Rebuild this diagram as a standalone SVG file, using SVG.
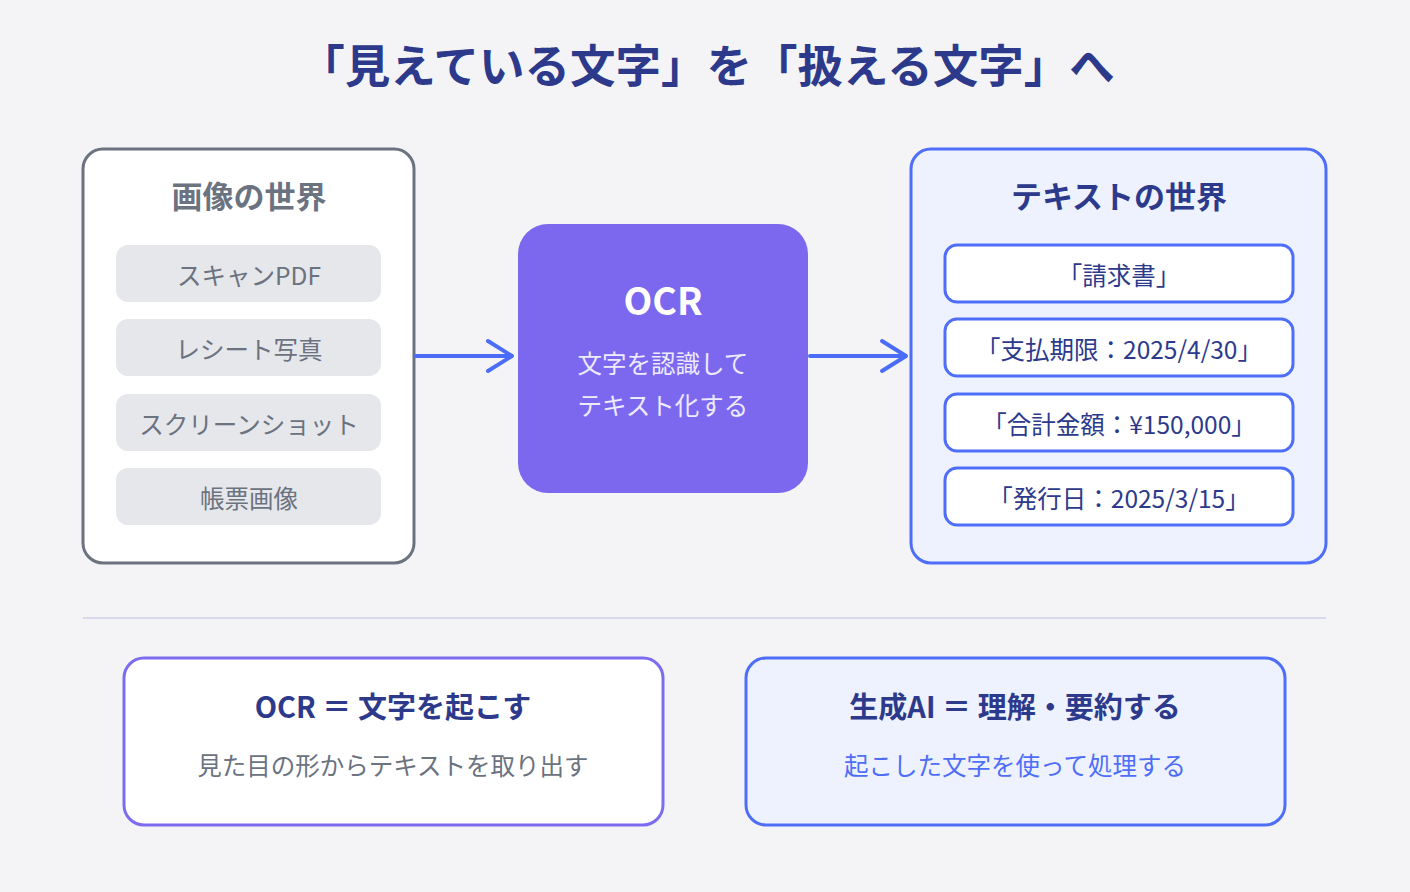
<svg xmlns="http://www.w3.org/2000/svg" width="1410" height="892" viewBox="0 0 1410 892">
<defs>
<style>
text{font-family:"Noto Sans CJK JP","Noto Sans",sans-serif;text-anchor:middle}
.title{font-size:45.5px;font-weight:700;fill:#2d3a8c}
.ptitle{font-size:31px;font-weight:700}
.item-l rect{fill:#e5e7eb}
.item-l text{font-size:24.5px;fill:#6b7280}
.item-r rect{fill:#ffffff;stroke:#4f6ef7;stroke-width:3}
.item-r text{font-size:24.5px;fill:#2d3a8c}
.conn{stroke:#4a6cf7;stroke-width:4;fill:none;stroke-linecap:round;stroke-linejoin:round}
.btitle{font-size:29px;font-weight:700;fill:#2d3a8c}
.bsub{font-size:24.5px}
</style>
</defs>
<rect x="0" y="0" width="1410" height="892" fill="#f4f4f7"/>
<text class="title" x="707" y="83">「見えている文字」を「扱える文字」へ</text>

<g id="image-world">
<rect x="83" y="149" width="331" height="414" rx="20" fill="#ffffff" stroke="#6b7280" stroke-width="3"/>
<text class="ptitle" x="249" y="208" fill="#6b7280">画像の世界</text>
<g class="item-l" id="img-scan"><rect x="116" y="245" width="265" height="57" rx="12"/><text x="249" y="284.5">スキャンPDF</text></g>
<g class="item-l" id="img-receipt"><rect x="116" y="319" width="265" height="57" rx="12"/><text x="249" y="359">レシート写真</text></g>
<g class="item-l" id="img-screen"><rect x="116" y="394" width="265" height="57" rx="12"/><text x="249" y="433.5">スクリーンショット</text></g>
<g class="item-l" id="img-form"><rect x="116" y="468" width="265" height="57" rx="12"/><text x="249" y="508">帳票画像</text></g>
</g>

<g id="ocr">
<rect x="518" y="224" width="290" height="269" rx="30" fill="#7b68ee"/>
<text x="663" y="315" font-size="37.5" font-weight="700" fill="#ffffff">OCR</text>
<text x="663" y="373" font-size="24.5" fill="#eeeaff">文字を認識して</text>
<text x="663" y="415" font-size="24.5" fill="#eeeaff">テキスト化する</text>
</g>

<g id="text-world">
<rect x="911" y="149" width="415" height="414" rx="20" fill="#eef2fe" stroke="#4f6ef7" stroke-width="3"/>
<text class="ptitle" x="1119" y="208" fill="#2d3a8c">テキストの世界</text>
<g class="item-r" id="txt-1"><rect x="945" y="245" width="348" height="57" rx="12"/><text x="1119" y="284.5">「請求書」</text></g>
<g class="item-r" id="txt-2"><rect x="945" y="319" width="348" height="57" rx="12"/><text x="1119" y="359">「支払期限：2025/4/30」</text></g>
<g class="item-r" id="txt-3"><rect x="945" y="394" width="348" height="57" rx="12"/><text x="1119" y="433.5">「合計金額：¥150,000」</text></g>
<g class="item-r" id="txt-4"><rect x="945" y="468" width="348" height="57" rx="12"/><text x="1119" y="508">「発行日：2025/3/15」</text></g>
</g>

<g id="connectors">
<path class="conn" d="M416 356 H511 M488 341 L512 356 L488 371"/>
<path class="conn" d="M810 356 H905 M882 341 L906 356 L882 371"/>
</g>

<line x1="83" y1="618" x2="1326" y2="618" stroke="#d9d9ec" stroke-width="2"/>

<g id="ocr-def">
<rect x="124" y="658" width="539" height="167" rx="20" fill="#ffffff" stroke="#7b6cf0" stroke-width="3"/>
<text class="btitle" x="393" y="718">OCR ＝ 文字を起こす</text>
<text class="bsub" x="393" y="775" fill="#6b7280">見た目の形からテキストを取り出す</text>
</g>

<g id="ai-def">
<rect x="746" y="658" width="539" height="167" rx="20" fill="#eef2fe" stroke="#4f6ef7" stroke-width="3"/>
<text class="btitle" x="1015" y="718">生成AI ＝ 理解・要約する</text>
<text class="bsub" x="1015" y="775" fill="#4f6ef7">起こした文字を使って処理する</text>
</g>
</svg>
